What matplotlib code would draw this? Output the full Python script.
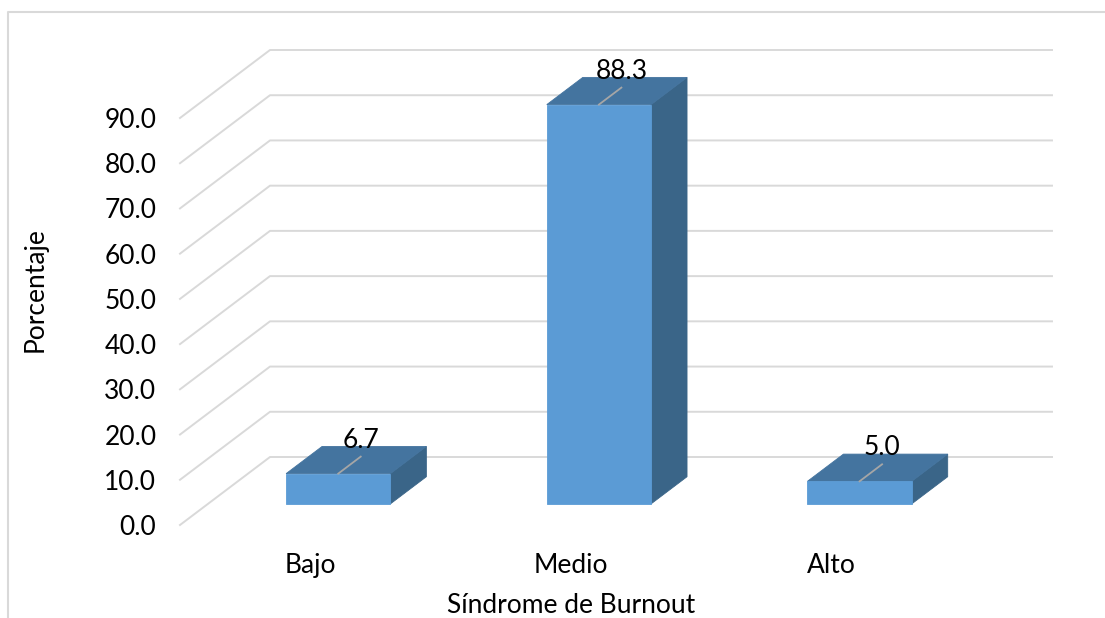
import matplotlib
matplotlib.use("Agg")
import matplotlib.pyplot as plt
from matplotlib.patches import Polygon
from matplotlib.lines import Line2D
from matplotlib.transforms import IdentityTransform
import numpy as np

plt.rcParams['font.family'] = ['Lato', 'DejaVu Sans']

# Data
categories = ["Bajo", "Medio", "Alto"]
percentages = [6.7, 88.3, 5.0]
y_ticks = [0, 10, 20, 30, 40, 50, 60, 70, 80, 90]
x_title = "Síndrome de Burnout"
y_title = "Porcentaje"

# Colours
FRONT = "#5B9BD5"
TOP = "#44749F"
SIDE = "#3A6588"
GRID = "#D9D9D9"
FS = 19

W, H, DPI = 1105, 618, 100
fig = plt.figure(figsize=(W / DPI, H / DPI), dpi=DPI)
fig.patch.set_facecolor("white")

# front plane of the 3-D box (floor front edge to top grid line)
ax = fig.add_axes([180 / W, 93 / H, 782 / W, 407 / H])
ax.set_xlim(-0.5, len(categories) - 0.5)
ax.set_ylim(0, 90)
ax.patch.set_visible(False)
for s in ax.spines.values():
    s.set_visible(False)

# depth offset in pixels for a full depth unit
DX, DY = 90.0, 68.0


def proj(x, v, d):
    px, py = ax.transData.transform((x, v))
    return (px + DX * d, py + DY * d)


ident = IdentityTransform()

# grid: left wall diagonals and back wall lines
for v in y_ticks:
    p0 = proj(-0.5, v, 0)
    p1 = proj(-0.5, v, 1)
    p2 = proj(len(categories) - 0.5, v, 1)
    fig.add_artist(Line2D([p0[0], p1[0], p2[0]], [p0[1], p1[1], p2[1]],
                          transform=ident, color=GRID, lw=1.4, zorder=1))

# bars
half_w = 0.2
d_front, d_back = 0.31, 0.71
for i, v in enumerate(percentages):
    front = [proj(i - half_w, 0, d_front), proj(i + half_w, 0, d_front),
             proj(i + half_w, v, d_front), proj(i - half_w, v, d_front)]
    top = [proj(i - half_w, v, d_front), proj(i + half_w, v, d_front),
           proj(i + half_w, v, d_back), proj(i - half_w, v, d_back)]
    side = [proj(i + half_w, 0, d_front), proj(i + half_w, 0, d_back),
            proj(i + half_w, v, d_back), proj(i + half_w, v, d_front)]
    for pts, col in ((side, SIDE), (top, TOP), (front, FRONT)):
        fig.add_artist(Polygon(pts, closed=True, transform=ident,
                               facecolor=col, edgecolor=col, lw=0.6, zorder=3))
    # leader line and value label
    a = proj(i, v, d_front)
    b = proj(i, v, d_front + 0.25)
    fig.add_artist(Line2D([a[0], b[0]], [a[1], b[1]], transform=ident,
                          color="#A6A6A6", lw=1.3, zorder=4))
    fig.text(b[0], b[1] + 9, f"{v:.1f}", transform=ident, ha="center",
             va="baseline", fontsize=FS, color="black", zorder=5)

# axis ticks and labels
ax.set_yticks(y_ticks)
ax.set_yticklabels([f"{t:.1f}" for t in y_ticks])
ax.set_xticks(range(len(categories)))
ax.set_xticklabels(categories)
ax.tick_params(axis="y", length=0, pad=17, labelsize=FS)
ax.tick_params(axis="x", length=0, pad=20, labelsize=FS)
ax.set_xlabel(x_title, fontsize=FS, labelpad=11)
ax.set_ylabel(y_title, fontsize=FS, va="center")
ax.yaxis.set_label_coords(-145 / 782, 235 / 407)

# chart area border (top and left edges)
fig.add_artist(Line2D([8, 8, W + 5], [-5, H - 12, H - 12], transform=ident,
                      color=GRID, lw=1.5, zorder=0))

fig.savefig("out.png", dpi=DPI, facecolor="white")
